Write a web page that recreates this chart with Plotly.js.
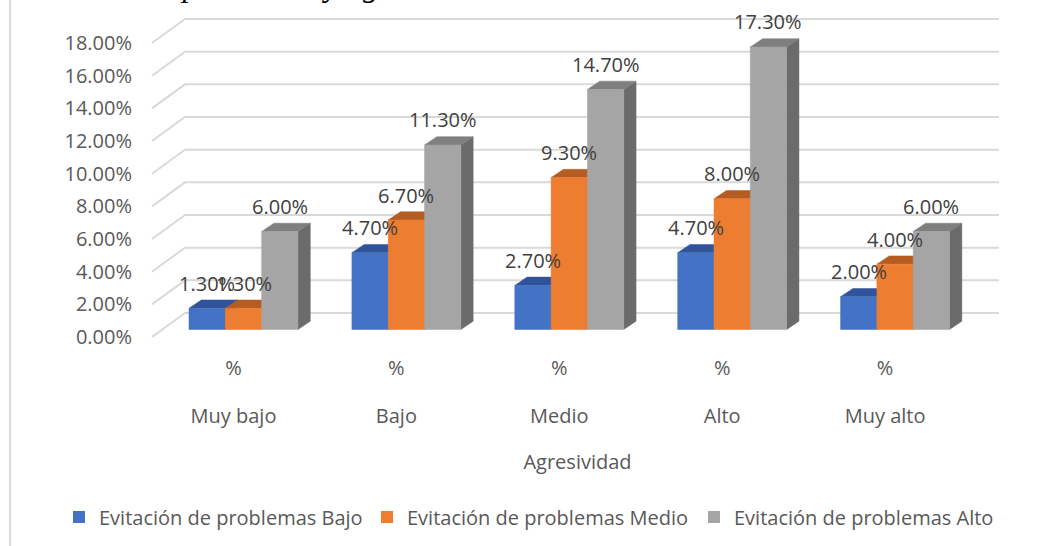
<!DOCTYPE html>
<html>
<head>
<meta charset="utf-8">
<script src="https://cdn.plot.ly/plotly-3.0.1.min.js"></script>
<style>
  html, body { margin: 0; padding: 0; background: #ffffff; }
  #chart { width: 1049px; height: 546px; }
</style>
</head>
<body>
<div id="chart"></div>
<script>
// ---------------- data ----------------
const categories = ['Muy bajo', 'Bajo', 'Medio', 'Alto', 'Muy alto'];
const subLabels = ['%', '%', '%', '%', '%'];
const seriesNames = ['Evitación de problemas Bajo', 'Evitación de problemas Medio', 'Evitación de problemas Alto'];
const valuesBajo = [1.3, 4.7, 2.7, 4.7, 2.0];
const valuesMedio = [1.3, 6.7, 9.3, 8.0, 4.0];
const valuesAlto = [6.0, 11.3, 14.7, 17.3, 6.0];
const yTicks = [0, 2, 4, 6, 8, 10, 12, 14, 16, 18];
const axisTitle = 'Agresividad';
const chartTitle = 'Evitación de problemas y agresividad';

// ---------------- style / geometry ----------------
const FONT = 'Open Sans, Liberation Sans, sans-serif';
const frontColors = ['#4472C4', '#ED7D31', '#A5A5A5'];
const topColors = ['#30549A', '#B55C22', '#7F7F7F'];
const sideColors = ['#36609F', '#C0621F', '#6B6B6B'];
const BW = 0.223;      // bar width (category units)
const DX = 0.0755;     // bar depth, x
const DY = 0.508;      // bar depth, y
const WALL_BACK_DY = 1.01;
const WALL_FRONT_DY = -0.46;
const WALL_FRONT_X = -0.562;
const WALL_BACK_X = -0.359;
const WALL_RIGHT_X = 4.638;
const X_RANGE = [-0.574, 4.675];
const Y_RANGE = [-0.949, 19.87];
const LABEL_DX = 0.0614;
const M = { l: 150, r: 44, t: 5, b: 201 };
const PW = 1049 - M.l - M.r, PH = 546 - M.t - M.b;
const LEGEND_LEFT_PX = [59, 367, 694];
const LEGEND_Y_PX = 517;

const allSeries = [valuesBajo, valuesMedio, valuesAlto];
const traces = [];

// back wall + left wall gridlines
const gx = [], gy = [];
yTicks.forEach(v => {
  gx.push(WALL_FRONT_X, WALL_BACK_X, WALL_RIGHT_X, null);
  gy.push(v + WALL_FRONT_DY, v + WALL_BACK_DY, v + WALL_BACK_DY, null);
});
traces.push({ type: 'scatter', mode: 'lines', x: gx, y: gy, line: { color: '#D9D9D9', width: 2 },
  hoverinfo: 'skip', showlegend: false });

// 3D bars
allSeries.forEach((vals, k) => {
  const fx = [], fy = [], tx = [], ty = [], sx = [], sy = [];
  vals.forEach((v, i) => {
    const xl = i + (k - 1) * BW - BW / 2, xr = xl + BW;
    fx.push(xl, xr, xr, xl, xl, null); fy.push(0, 0, v, v, 0, null);
    tx.push(xl, xr, xr + DX, xl + DX, xl, null); ty.push(v, v, v + DY, v + DY, v, null);
    sx.push(xr, xr + DX, xr + DX, xr, xr, null); sy.push(0, DY, v + DY, v, 0, null);
  });
  [[sx, sy, sideColors[k]], [tx, ty, topColors[k]], [fx, fy, frontColors[k]]].forEach(([xs, ys, c]) => {
    traces.push({ type: 'scatter', mode: 'lines', x: xs, y: ys, fill: 'toself', fillcolor: c,
      line: { color: c, width: 0.5 }, hoverinfo: 'skip', showlegend: false });
  });
});

// legend entries (one legend per entry so they stay on one row)
const legendKeys = ['legend', 'legend2', 'legend3'];
seriesNames.forEach((n, k) => {
  traces.push({ type: 'bar', x: [null], y: [null], name: n, marker: { color: frontColors[k] },
    hoverinfo: 'skip', legend: legendKeys[k] });
});

// dummy traces for overlay label axes
const idx = categories.map((c, i) => i);
traces.push({ type: 'scatter', mode: 'markers', x: idx, y: idx.map(() => null), xaxis: 'x2', yaxis: 'y2', showlegend: false, hoverinfo: 'skip' });
traces.push({ type: 'scatter', mode: 'markers', x: idx, y: idx.map(() => null), xaxis: 'x3', yaxis: 'y', showlegend: false, hoverinfo: 'skip' });

// data labels
const annotations = [];
allSeries.forEach((vals, k) => {
  vals.forEach((v, i) => {
    annotations.push({ x: i + (k - 1) * BW, y: v, xref: 'x', yref: 'y', text: v.toFixed(2) + '%',
      showarrow: false, yshift: 25, font: { family: FONT, size: 20, color: '#404040' } });
  });
});
// (cropped at the top edge, as in the reference) chart title
annotations.push({ xref: 'paper', yref: 'paper', x: (11 - M.l) / PW, y: 1,
  xanchor: 'left', yanchor: 'bottom', showarrow: false, text: '<i>' + chartTitle + '</i>',
  font: { family: 'Liberation Serif, serif', size: 32, color: '#000000' } });

const tickFont = { family: FONT, size: 20, color: '#595959' };
const layout = {
  width: 1049, height: 546,
  margin: M,
  paper_bgcolor: '#ffffff', plot_bgcolor: 'rgba(0,0,0,0)',
  showlegend: true,
  xaxis: { range: X_RANGE, showgrid: false, zeroline: false, showticklabels: false, showline: false, ticks: '', automargin: false },
  yaxis: { range: Y_RANGE, showgrid: false, zeroline: false, showticklabels: false, showline: false, ticks: '', automargin: false },
  xaxis2: { overlaying: 'x', side: 'bottom', anchor: 'y', range: [X_RANGE[0] + LABEL_DX, X_RANGE[1] + LABEL_DX],
    tickmode: 'array', tickvals: idx, ticktext: subLabels, showgrid: false, zeroline: false, showline: false,
    ticks: '', ticklabelstandoff: 9, tickfont: tickFont, automargin: false },
  xaxis3: { overlaying: 'x', side: 'bottom', anchor: 'y', range: [X_RANGE[0] + LABEL_DX, X_RANGE[1] + LABEL_DX],
    tickmode: 'array', tickvals: idx, ticktext: categories, showgrid: false, zeroline: false, showline: false,
    ticks: '', ticklabelstandoff: 57, tickfont: tickFont, automargin: false,
    title: { text: axisTitle, font: tickFont, standoff: 26 } },
  yaxis2: { overlaying: 'y', side: 'left', anchor: 'x', range: [Y_RANGE[0] - WALL_FRONT_DY, Y_RANGE[1] - WALL_FRONT_DY],
    tickmode: 'array', tickvals: yTicks, ticktext: yTicks.map(v => v.toFixed(2) + '%'),
    showgrid: false, zeroline: false, showline: false, ticks: '', ticklabelstandoff: 17, tickfont: tickFont, automargin: false },
  shapes: [{ type: 'line', xref: 'paper', yref: 'paper', x0: (10 - M.l) / PW, x1: (10 - M.l) / PW,
    y0: (PH + M.t - 546) / PH, y1: (PH + M.t) / PH, line: { color: '#D9D9D9', width: 2 } }],
  annotations: annotations
};
legendKeys.forEach((key, k) => {
  layout[key] = { orientation: 'h', xref: 'container', yref: 'container', x: LEGEND_LEFT_PX[k] / 1049, xanchor: 'left',
    y: (546 - LEGEND_Y_PX) / 546, yanchor: 'middle',
    font: { family: FONT, size: 20, color: '#595959' }, bgcolor: 'rgba(0,0,0,0)' };
});

Plotly.newPlot('chart', traces, layout, { staticPlot: true, displayModeBar: false });
</script>
</body>
</html>
